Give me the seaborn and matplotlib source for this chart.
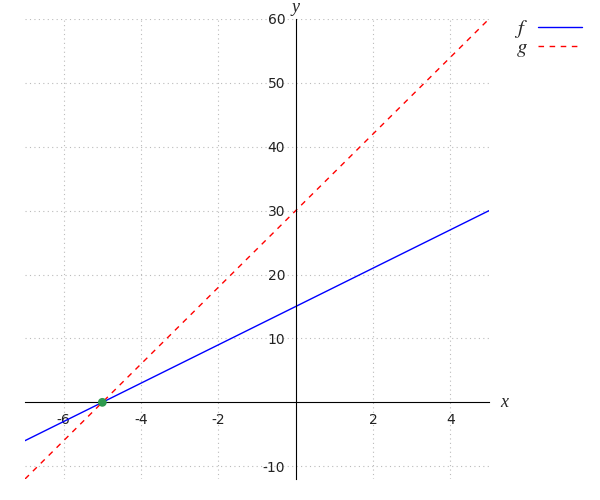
import numpy as np
import pandas as pd
import seaborn as sns
import matplotlib.pyplot as plt

# line endpoints
x_vals = [-7, 5]
f_vals = [-6, 30]
g_vals = [-12, 60]
cross_x = [-5]
cross_y = [0]
x_ticks = [-6, -4, -2, 2, 4]
y_ticks = [-10, 10, 20, 30, 40, 50, 60]

sns.set_style('white')
plt.rcParams['font.family'] = ['DejaVu Sans']
plt.rcParams['mathtext.fontset'] = 'stix'

df = pd.DataFrame({'x': x_vals, 'f': f_vals, 'g': g_vals})

fig = plt.figure(figsize=(6, 5), dpi=100)
ax = fig.add_axes([25 / 600, 21 / 500, 464 / 600, 460 / 500])

sns.lineplot(data=df, x='x', y='f', color='blue', lw=1, ax=ax, label='$f$')
sns.lineplot(data=df, x='x', y='g', color='red', lw=1, ax=ax, label='$g$',
             linestyle=(0, (4, 4)))
sns.scatterplot(x=cross_x, y=cross_y, color='#2e9a4e', s=40, ax=ax,
                edgecolor='none', zorder=5)

ax.set_xlim(-7, 5)
ax.set_ylim(-12, 60)
ax.set_xticks(x_ticks)
ax.set_yticks(y_ticks)
ax.set_xticklabels([str(t) for t in x_ticks])
ax.set_yticklabels([str(t) for t in y_ticks])
ax.tick_params(axis='both', labelsize=10, length=4, width=0.8, color='black',
               labelcolor='#222222', direction='out')

for side in ['top', 'right']:
    ax.spines[side].set_visible(False)
ax.spines['left'].set_position(('data', 0))
ax.spines['bottom'].set_position(('data', 0))
for side in ['left', 'bottom']:
    ax.spines[side].set_color('black')
    ax.spines[side].set_linewidth(0.8)

ax.grid(True, linestyle=(0, (1, 3)), color='#bbbbbb', lw=0.8)
ax.set_axisbelow(True)

ax.set_xlabel('')
ax.set_ylabel('')
ax.text(5.3, 0, 'x', fontsize=13, style='italic', family='Liberation Serif',
        ha='left', va='center')
ax.text(0, 60.5, 'y', fontsize=13, style='italic', family='Liberation Serif',
        ha='center', va='bottom')

leg = ax.legend(loc='upper left', bbox_to_anchor=(1.013, 1.042), frameon=False,
                markerfirst=False, fontsize=15, handlelength=2.1,
                handletextpad=0.5, labelspacing=-0.15)

fig.savefig('out.png', dpi=100)
